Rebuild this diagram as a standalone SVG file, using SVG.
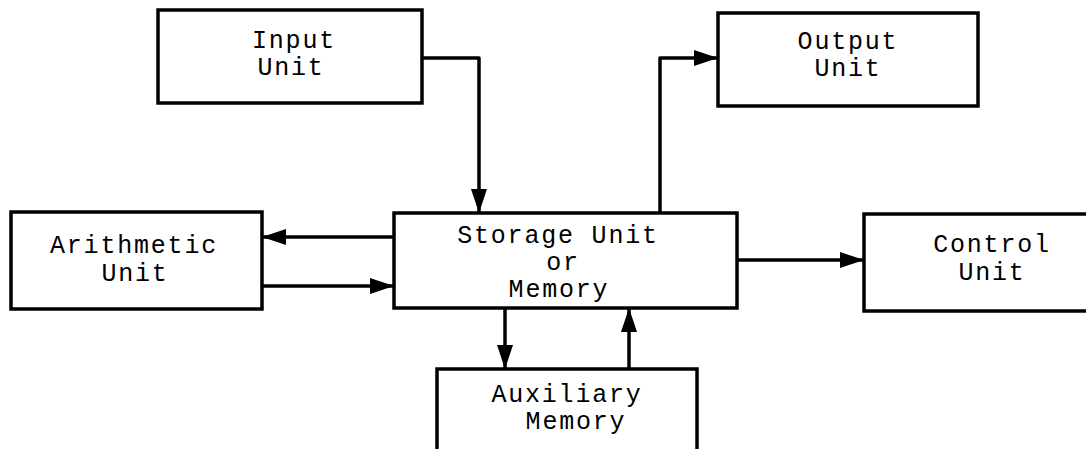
<svg xmlns="http://www.w3.org/2000/svg" width="1086" height="449" viewBox="0 0 1086 449">
  <style>
    .box { fill: #ffffff; stroke: #000000; stroke-width: 3.5; }
    .lbl { font-family: "Liberation Mono", "Courier New", "DejaVu Sans Mono", monospace; font-size: 25px; letter-spacing: 1.8px; fill: #000000; text-anchor: middle; }
    .wire { fill: none; stroke: #000000; stroke-width: 3.5; stroke-linejoin: round; }
  </style>
  <defs>
    <marker id="arrow" viewBox="0 0 24 16" refX="23" refY="8" markerWidth="24" markerHeight="16" markerUnits="userSpaceOnUse" orient="auto">
      <path d="M0,0 L24,8 L0,16 Z" fill="#000000"/>
    </marker>
  </defs>
  <rect width="1086" height="449" fill="#ffffff"/>

  <g id="input-unit">
    <rect class="box" x="158" y="10" width="264" height="93"/>
    <text class="lbl" x="294" y="48">Input</text>
    <text class="lbl" x="291" y="75">Unit</text>
  </g>

  <g id="output-unit">
    <rect class="box" x="718" y="13" width="260" height="93"/>
    <text class="lbl" x="848" y="49">Output</text>
    <text class="lbl" x="848" y="76">Unit</text>
  </g>

  <g id="arithmetic-unit">
    <rect class="box" x="11" y="212" width="251" height="97"/>
    <text class="lbl" x="134" y="253">Arithmetic</text>
    <text class="lbl" x="135" y="281">Unit</text>
  </g>

  <g id="storage-unit">
    <rect class="box" x="394" y="213" width="343" height="95"/>
    <text class="lbl" x="558" y="243">Storage Unit</text>
    <text class="lbl" x="563" y="270">or</text>
    <text class="lbl" x="559" y="297">Memory</text>
  </g>

  <g id="control-unit">
    <rect class="box" x="864" y="214" width="240" height="97"/>
    <text class="lbl" x="992" y="252">Control</text>
    <text class="lbl" x="992" y="280">Unit</text>
  </g>

  <g id="auxiliary-memory">
    <rect class="box" x="437" y="369" width="260" height="100"/>
    <text class="lbl" x="567" y="402">Auxiliary</text>
    <text class="lbl" x="576" y="429">Memory</text>
  </g>

  <g id="connectors">
    <path class="wire" d="M422,58 H479 V212" marker-end="url(#arrow)"/>
    <path class="wire" d="M660,213 V58 H717" marker-end="url(#arrow)"/>
    <path class="wire" d="M394,237 H263" marker-end="url(#arrow)"/>
    <path class="wire" d="M262,286 H393" marker-end="url(#arrow)"/>
    <path class="wire" d="M737,260 H863" marker-end="url(#arrow)"/>
    <path class="wire" d="M505,308 V368" marker-end="url(#arrow)"/>
    <path class="wire" d="M629,369 V309" marker-end="url(#arrow)"/>
  </g>
</svg>
